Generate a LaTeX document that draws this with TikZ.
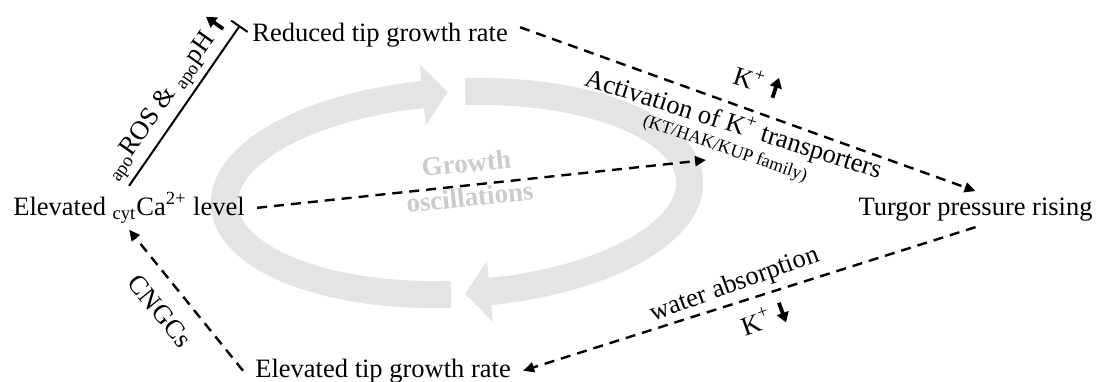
\documentclass[tikz,border=0pt]{standalone}
\usepackage{fontspec}
\setmainfont{Liberation Serif}
\usetikzlibrary{arrows.meta,calc}
\definecolor{ringgray}{RGB}{228,228,228}
\definecolor{textgray}{RGB}{203,203,203}
\newcommand\myuparr{\tikz[baseline=0pt]\draw[line width=1.9pt,-{Triangle[length=5pt,width=6pt]}] (0pt,-0.5pt) -- (0pt,10pt);}
\newcommand\mydownarr{\tikz[baseline=0pt]\draw[line width=1.9pt,-{Triangle[length=5pt,width=6pt]}] (0pt,10pt) -- (0pt,-0.5pt);}
\begin{document}
\begin{tikzpicture}[x=0.5pt,y=-0.5pt,
  font=\fontsize{13.25}{16}\selectfont,
  lbl/.style={inner xsep=6pt, inner ysep=3pt},
  txt/.style={inner sep=1pt},
  flow/.style={line width=1.2pt, dash pattern=on 5pt off 3.5pt, -{Triangle[length=5.5pt,width=5pt]}},
  inhib/.style={line width=1pt, -{Bar[width=10pt]}},
  ring/.style={line width=13.5pt, draw=ringgray},
  ringhead/.style={ring, -{Triangle[length=12.5pt,width=30pt]}}
]
\useasboundingbox (0,0) rectangle (1098,381);
\fill[white] (0,0) rectangle (1098,381);

% grey oscillation ring
\draw[ring] plot[domain=92.8:264, samples=100, smooth] ({457+232.68*cos(\x)+5.286*sin(\x)},{193-12.195*cos(\x)+100.86*sin(\x)});
\coordinate (lb) at ({457+232.68*cos(259)+5.286*sin(259)},{193-12.195*cos(259)+100.86*sin(259)});
\coordinate (lt) at ({457+232.68*cos(269)+5.286*sin(269)},{193-12.195*cos(269)+100.86*sin(269)});
\draw[ringhead] (lb) -- (lt);
\draw[ring] plot[domain=273.3:444, samples=100, smooth] ({457+232.68*cos(\x)+5.286*sin(\x)},{193-12.195*cos(\x)+100.86*sin(\x)});
\coordinate (rb) at ({457+232.68*cos(439)+5.286*sin(439)},{193-12.195*cos(439)+100.86*sin(439)});
\coordinate (rt) at ({457+232.68*cos(449.3)+5.286*sin(449.3)},{193-12.195*cos(449.3)+100.86*sin(449.3)});
\draw[ringhead] (rb) -- (rt);

\node[txt, rotate=6, text=textgray, align=center, font=\fontsize{13.5}{17}\selectfont\bfseries] (osc) at (468,180) {Growth\\oscillations};

% main nodes
\node[lbl, anchor=base west] (red) at (240,41) {Reduced tip growth rate};
\node[lbl, anchor=base west] (ca) at (1,215) {Elevated \textsubscript{cyt}Ca\textsuperscript{2+} level};
\node[lbl, anchor=base east] (turg) at (1105,215) {Turgor pressure rising};
\node[lbl, anchor=base west] (elev) at (243,377) {Elevated tip growth rate};
\coordinate (acttip) at (706,160);

% connectors
\draw[flow] ($(red.east)!0.4!(red.north east)$) -- (turg.north);
\draw[flow] (ca.east) -- (acttip);
\draw[flow] (turg.south) -- (elev.east);
\draw[flow] (elev.west) -- (ca.south);
\draw[inhib] (ca.north) -- ($(red.west)!0.5!(red.north west)$);

% labels
\node[txt, rotate=54.8] (apo) at (165,98) {\textsubscript{apo}ROS \& \textsubscript{apo}pH \myuparr};
\node[txt, rotate=-18] (kup) at (758,82) {K\textsuperscript{+} \myuparr};
\node[txt, rotate=-17.5, anchor=base] (act) at (731,132) {Activation of K\textsuperscript{+} transporters};
\node[txt, rotate=-19, font=\fontsize{9}{10}\selectfont] (fam) at (725,149) {(KT/HAK/KUP family)};
\node[txt, rotate=-51] (cngc) at (160,311) {CNGCs};
\node[txt, rotate=20] (water) at (735,285) {water absorption};
\node[txt, rotate=20] (kdown) at (765,319) {K\textsuperscript{+} \mydownarr};
\end{tikzpicture}
\end{document}
